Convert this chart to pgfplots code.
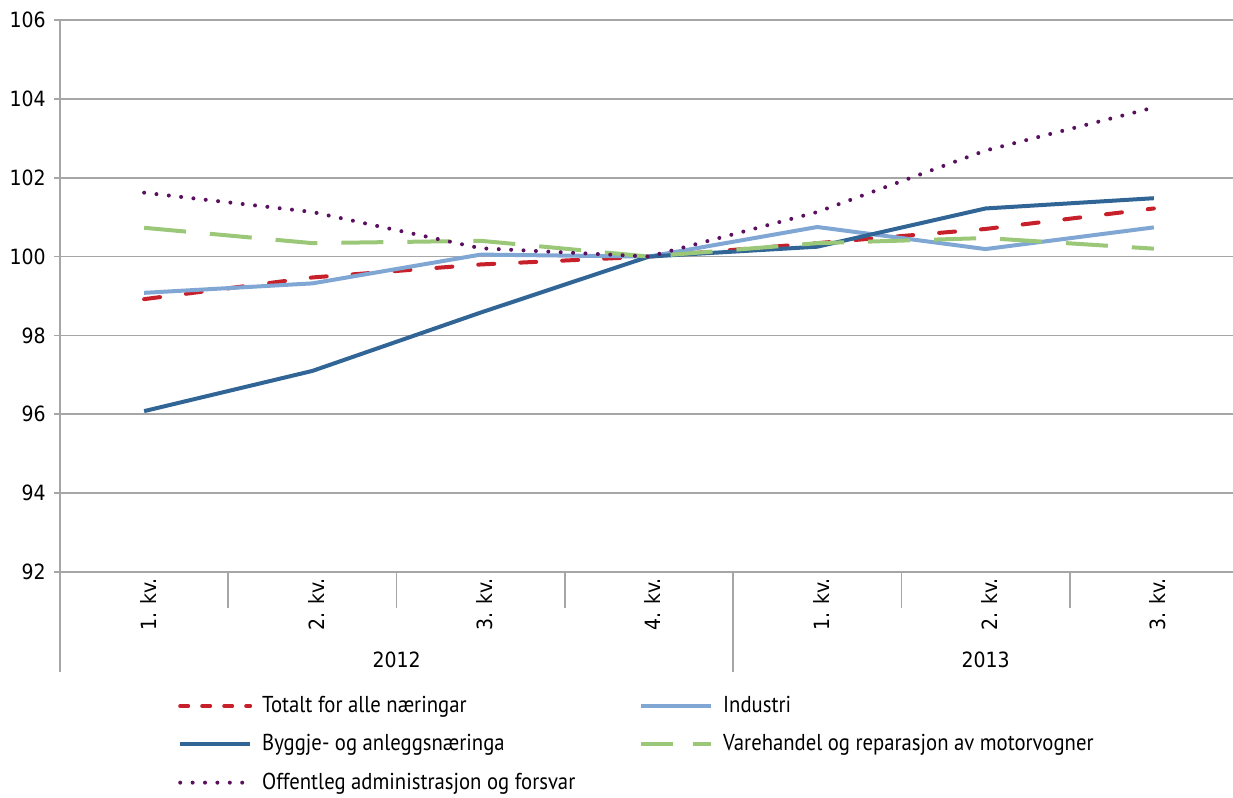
\documentclass[border=0pt]{standalone}
\usepackage{pgfplots}
\pgfplotsset{compat=1.18}
\usepackage{fontspec}
\setmainfont{DejaVu Sans Condensed}
\newfontfamily\legfont[FakeStretch=0.9]{PT Sans}

\definecolor{cTot}{RGB}{200,32,42}
\definecolor{cInd}{RGB}{128,167,212}
\definecolor{cByg}{RGB}{48,101,150}
\definecolor{cVar}{RGB}{155,200,120}
\definecolor{cOff}{RGB}{90,15,95}
\definecolor{cGrid}{RGB}{166,166,166}

\begin{document}
\begin{tikzpicture}
\path[use as bounding box] (0,0) rectangle (616.5pt,399pt);
\begin{axis}[
  at={(30pt,113pt)}, anchor=south west,
  scale only axis, width=589pt, height=276pt,
  xmin=-0.5, xmax=6.5, ymin=92, ymax=106,
  ytick={92,94,...,106},
  xtick={0,...,6},
  xticklabels={1. kv.,2. kv.,3. kv.,4. kv.,1. kv.,2. kv.,3. kv.},
  axis x line=bottom, axis y line=left,
  axis line style={-, cGrid, line width=0.8pt},
  ymajorgrids, grid style={cGrid, line width=0.8pt},
  x tick style={draw=none},
  y tick style={cGrid, line width=0.8pt},
  tick align=outside, major tick length=3pt,
  font=\fontsize{10.5}{12}\selectfont,
  /pgf/number format/assume math mode=true,
  yticklabel style={anchor=east, inner sep=0pt, xshift=-4pt},
  xticklabel style={rotate=90, anchor=east, inner sep=0pt, yshift=-2pt},
  clip=false,
  legend columns=2,
  legend style={at={(0.1,-0.221)}, anchor=north west, draw=none, fill=none,
    inner sep=0pt, column sep=4pt, row sep=7.5pt,
    font=\legfont\fontsize{11.5}{13}\selectfont,
    nodes={inner sep=1pt}},
  legend cell align=left,
  legend image code/.code={\draw[#1] (0pt,0pt) -- (35pt,0pt);},
]
\addplot[cTot, line width=2pt, line cap=round, dash pattern=on 8pt off 13pt,
  legend image post style={dash pattern=on 4pt off 7pt}] coordinates {
  (0,98.92) (1,99.47) (2,99.80) (3,100.00) (4,100.34) (5,100.70) (6,101.22)};
\addlegendentry{\makebox[183.5pt][l]{Totalt for alle næringar}}
\addplot[cInd, line width=2pt] coordinates {
  (0,99.08) (1,99.32) (2,100.05) (3,100.00) (4,100.75) (5,100.19) (6,100.74)};
\addlegendentry{Industri}
\addplot[cByg, line width=2pt] coordinates {
  (0,96.08) (1,97.10) (2,98.58) (3,100.00) (4,100.25) (5,101.22) (6,101.48)};
\addlegendentry{\makebox[183.5pt][l]{Byggje- og anleggsnæringa}}
\addplot[cVar, line width=2pt, dash pattern=on 21pt off 12pt,
  legend image post style={dash pattern=on 16pt off 10pt}] coordinates {
  (0,100.73) (1,100.34) (2,100.40) (3,100.00) (4,100.34) (5,100.47) (6,100.20)};
\addlegendentry{Varehandel og reparasjon av motorvogner}
\addplot[cOff, line width=2pt, line cap=round, dash pattern=on 0pt off 6.2pt] coordinates {
  (0,101.62) (1,101.13) (2,100.21) (3,100.00) (4,101.13) (5,102.69) (6,103.78)};
\addlegendentry{\makebox[183.5pt][l]{Offentleg administrasjon og forsvar}}

% category separators below the axis
\pgfplotsinvokeforeach{0.5,1.5,2.5,4.5,5.5}{
  \draw[cGrid, line width=0.8pt] (axis cs:#1,92) -- ([yshift=-18pt]axis cs:#1,92);
}
\pgfplotsinvokeforeach{-0.5,3.5,6.5}{
  \draw[cGrid, line width=0.8pt] (axis cs:#1,92) -- ([yshift=-50pt]axis cs:#1,92);
}
\node[font=\fontsize{10.5}{12}\selectfont] at ([yshift=-44pt]axis cs:1.5,92) {2012};
\node[font=\fontsize{10.5}{12}\selectfont] at ([yshift=-44pt]axis cs:5,92) {2013};
\end{axis}
\end{tikzpicture}
\end{document}
